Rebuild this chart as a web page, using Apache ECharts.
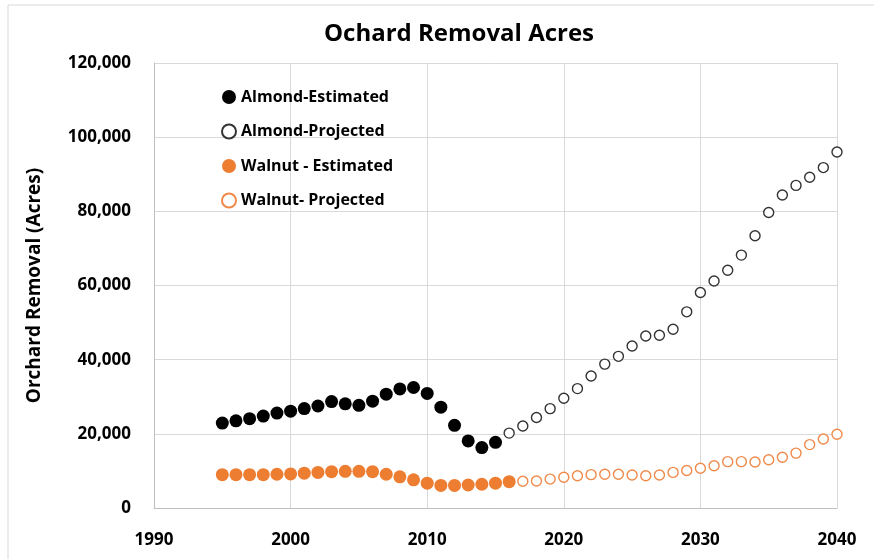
<!DOCTYPE html>
<html>
<head>
<meta charset="utf-8">
<script src="https://cdn.jsdelivr.net/npm/echarts@6/dist/echarts.min.js"></script>
<style>
  html, body { margin: 0; padding: 0; background: #fff; }
  #main { width: 874px; height: 559px; }
</style>
</head>
<body>
<div id="main"></div>
<script>
// 数据
const almondEstStart = 1995;
const almondEstimated = [22.9, 23.5, 24.1, 24.8, 25.6, 26.1, 26.8, 27.5, 28.7, 28.1, 27.7,
  28.8, 30.7, 32.1, 32.5, 30.9, 27.2, 22.3, 18.1, 16.3, 17.7];

const almondProjStart = 2016;
const almondProjected = [20.2, 22.1, 24.4, 26.8, 29.6, 32.2, 35.6, 38.8, 40.9, 43.7, 46.4,
  46.6, 48.2, 52.9, 58.1, 61.2, 64.1, 68.2, 73.4, 79.7, 84.4, 87.0, 89.2, 91.8, 96.0];

const walnutEstStart = 1995;
const walnutEstimated = [9.0, 9.0, 9.0, 9.0, 9.1, 9.2, 9.4, 9.6, 9.8, 9.9, 9.9, 9.8,
  9.1, 8.4, 7.6, 6.7, 6.1, 6.1, 6.2, 6.4, 6.7, 7.1];

const walnutProjStart = 2017;
const walnutProjected = [7.2, 7.3, 7.8, 8.3, 8.7, 9.0, 9.1, 9.1, 8.9, 8.7, 8.9, 9.6,
  10.1, 10.7, 11.4, 12.5, 12.5, 12.4, 13.0, 13.7, 14.8, 17.1, 18.6, 19.9];

const seriesNames = ["Almond-Estimated", "Almond-Projected", "Walnut - Estimated", "Walnut- Projected"];

// 千英亩 -> 英亩, 配上年份
function toPoints(start, vals) {
  return vals.map((v, i) => [start + i, Math.round(v * 1000)]);
}

const font = "'Open Sans', Lato, sans-serif";
const main = document.getElementById("main");
const chart = echarts.init(main);

const option = {
  animation: false,
  title: {
    text: "Ochard Removal Acres",
    left: 454,
    textAlign: "center",
    top: 17,
    textStyle: { fontFamily: font, fontSize: 24, fontWeight: "bold", color: "#000" },
  },
  graphic: [
    // 外框（左、上）
    { type: "line", shape: { x1: 8, y1: 5, x2: 8, y2: 559 }, style: { stroke: "#d9d9d9", lineWidth: 1 } },
    { type: "line", shape: { x1: 8, y1: 5, x2: 874, y2: 5 }, style: { stroke: "#d9d9d9", lineWidth: 1 } },
  ],
  legend: {
    orient: "vertical",
    left: 216,
    top: 84,
    itemWidth: 14,
    itemHeight: 14,
    itemGap: 18.5,
    data: seriesNames,
    textStyle: { fontFamily: font, fontSize: 16, fontWeight: "bold", color: "#000" },
  },
  grid: { left: 154, right: 37, top: 63, bottom: 51 },
  xAxis: {
    type: "value",
    min: 1990,
    max: 2040,
    interval: 10,
    axisLine: { show: true, lineStyle: { color: "#bfbfbf" } },
    axisTick: { show: false },
    splitLine: { show: true, lineStyle: { color: "#d9d9d9" } },
    axisLabel: {
      margin: 24,
      fontFamily: font,
      fontSize: 17,
      fontWeight: "bold",
      color: "#000",
      formatter: (v) => String(v),
    },
  },
  yAxis: {
    type: "value",
    min: 0,
    max: 120000,
    interval: 20000,
    name: "Orchard Removal (Acres)",
    nameLocation: "middle",
    nameGap: 110,
    nameTextStyle: { fontFamily: font, fontSize: 19, fontWeight: "bold", color: "#000" },
    axisLine: { show: true, lineStyle: { color: "#bfbfbf" } },
    axisTick: { show: false },
    splitLine: { show: true, lineStyle: { color: "#d9d9d9" } },
    axisLabel: {
      margin: 23,
      fontFamily: font,
      fontSize: 17,
      fontWeight: "bold",
      color: "#000",
      formatter: (v) => v.toLocaleString("en-US"),
    },
  },
  series: [
    {
      name: seriesNames[0],
      type: "scatter",
      data: toPoints(almondEstStart, almondEstimated),
      symbol: "circle",
      symbolSize: 13,
      itemStyle: { color: "#000", opacity: 1 },
    },
    {
      name: seriesNames[1],
      type: "scatter",
      data: toPoints(almondProjStart, almondProjected),
      symbol: "circle",
      symbolSize: 10,
      itemStyle: { color: "#fff", borderColor: "#333", borderWidth: 1.4, opacity: 1 },
    },
    {
      name: seriesNames[2],
      type: "scatter",
      data: toPoints(walnutEstStart, walnutEstimated),
      symbol: "circle",
      symbolSize: 13,
      itemStyle: { color: "#ed7d31", opacity: 1 },
    },
    {
      name: seriesNames[3],
      type: "scatter",
      data: toPoints(walnutProjStart, walnutProjected),
      symbol: "circle",
      symbolSize: 10,
      itemStyle: { color: "#fff", borderColor: "#ef8a4a", borderWidth: 1.4, opacity: 1 },
    },
  ],
};

chart.setOption(option);
window.onresize = function () {
  chart.resize();
};
</script>
</body>
</html>
